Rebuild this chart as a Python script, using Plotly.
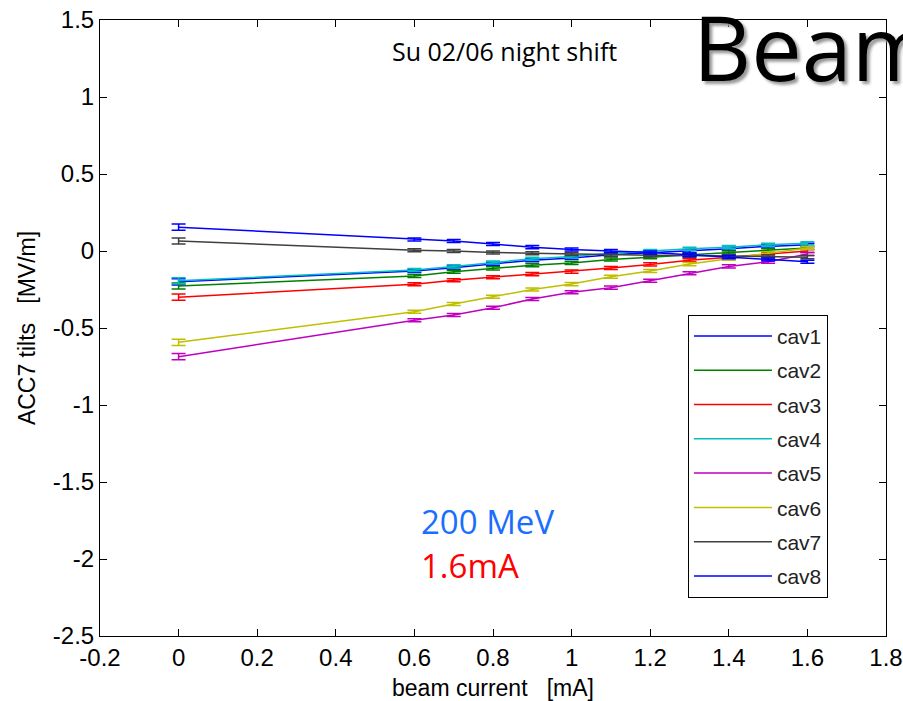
import plotly.graph_objects as go

# ---- data ----
beam_current = [0, 0.6, 0.7, 0.8, 0.9, 1.0, 1.1, 1.2, 1.3, 1.4, 1.5, 1.6]

cav1 = [-0.200, -0.130, -0.108, -0.083, -0.060, -0.045, -0.025, -0.012, 0.000, 0.015, 0.030, 0.040]
cav2 = [-0.227, -0.162, -0.135, -0.113, -0.092, -0.078, -0.055, -0.040, -0.025, -0.010, 0.005, 0.020]
cav3 = [-0.300, -0.216, -0.190, -0.170, -0.150, -0.134, -0.110, -0.087, -0.060, -0.040, -0.020, 0.000]
cav4 = [-0.193, -0.123, -0.100, -0.075, -0.050, -0.035, -0.015, 0.000, 0.015, 0.025, 0.040, 0.050]
cav5 = [-0.686, -0.450, -0.416, -0.368, -0.312, -0.268, -0.238, -0.193, -0.145, -0.100, -0.070, -0.020]
cav6 = [-0.593, -0.394, -0.344, -0.297, -0.250, -0.215, -0.167, -0.130, -0.085, -0.050, -0.015, 0.020]
cav7 = [0.065, 0.005, 0.000, -0.010, -0.015, -0.020, -0.025, -0.028, -0.030, -0.032, -0.035, -0.040]
cav8 = [0.155, 0.075, 0.065, 0.045, 0.025, 0.010, 0.000, -0.010, -0.025, -0.040, -0.055, -0.070]

errors = [0.02, 0.01, 0.01, 0.01, 0.01, 0.01, 0.01, 0.01, 0.01, 0.01, 0.01, 0.01]

names = ["cav1", "cav2", "cav3", "cav4", "cav5", "cav6", "cav7", "cav8"]
series = [cav1, cav2, cav3, cav4, cav5, cav6, cav7, cav8]
colors = ["#0000FF", "#008000", "#FF0000", "#00BFBF", "#BF00BF", "#BFBF00", "#404040", "#0000FF"]

x_ticks = [-0.2, 0, 0.2, 0.4, 0.6, 0.8, 1, 1.2, 1.4, 1.6, 1.8]
y_ticks = [-2.5, -2, -1.5, -1, -0.5, 0, 0.5, 1, 1.5]

AXFONT = "Liberation Sans Narrow, Arial Narrow, Liberation Sans, Arial, sans-serif"
TXTFONT = "Open Sans, Carlito, Calibri, sans-serif"

fig = go.Figure()
for name, ys, col in zip(names, series, colors):
    fig.add_trace(go.Scatter(
        x=beam_current, y=ys, name=name, mode="lines",
        line=dict(color=col, width=1.5),
        error_y=dict(type="data", array=errors, color=col, thickness=1.5, width=7),
        legendgroup=name,
    ))

fig.update_layout(
    width=903, height=701,
    margin=dict(l=100, r=17, t=20, b=65),
    paper_bgcolor="white", plot_bgcolor="white",
    showlegend=True,
    legend=dict(
        x=0.748, y=0.5215, xanchor="left", yanchor="top",
        bordercolor="black", borderwidth=1, bgcolor="white",
        font=dict(family=AXFONT, size=21, color="#222"),
        tracegroupgap=4, itemwidth=78,
    ),
    font=dict(family=AXFONT, size=22, color="black"),
)

fig.update_xaxes(
    range=[-0.2, 1.8], tickvals=x_ticks, ticktext=[f"{v:g}" for v in x_ticks],
    showline=True, linecolor="black", linewidth=1, mirror="ticks",
    ticks="inside", ticklen=7, tickcolor="black", showgrid=False, zeroline=False,
    tickfont=dict(family=AXFONT, size=24), automargin=False,
    title=dict(text="beam current   [mA]", font=dict(family=AXFONT, size=23), standoff=12),
)
fig.update_yaxes(
    range=[-2.5, 1.5], tickvals=y_ticks, ticktext=[f"{v:g}" for v in y_ticks],
    showline=True, linecolor="black", linewidth=1, mirror="ticks",
    ticks="inside", ticklen=7, tickcolor="black", showgrid=False, zeroline=False,
    tickfont=dict(family=AXFONT, size=24), automargin=False,
    title=dict(text="ACC7 tilts   [MV/m]", font=dict(family=AXFONT, size=23), standoff=10),
)

fig.add_annotation(
    text="Su 02/06 night shift", xref="paper", yref="paper",
    x=0.514, y=0.95, xanchor="center", yanchor="middle", showarrow=False,
    font=dict(family=TXTFONT, size=25, color="black"),
)
fig.add_annotation(
    text="200 MeV", xref="paper", yref="paper",
    x=0.406, y=0.186, xanchor="left", yanchor="middle", showarrow=False,
    font=dict(family=TXTFONT, size=33, color="#1A6EFF"),
)
fig.add_annotation(
    text="1.6mA", xref="paper", yref="paper",
    x=0.406, y=0.114, xanchor="left", yanchor="middle", showarrow=False,
    font=dict(family=TXTFONT, size=33, color="#FF0000"),
)
fig.add_annotation(
    text="Beam", xref="paper", yref="paper",
    x=0.752, y=1.06, xanchor="left", yanchor="top", showarrow=False,
    font=dict(family=TXTFONT, size=90, color="black", shadow="3px 3px 3px #999"),
)

fig.write_html("out.html")
